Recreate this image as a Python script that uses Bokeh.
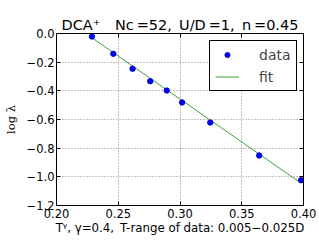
from bokeh.plotting import figure
from bokeh.models import Range1d, FixedTicker, LinearAxis, Legend, LegendItem
from bokeh.embed import file_html
from bokeh.resources import INLINE

# ---- data ----
t_gamma = [0.2287, 0.2460, 0.2616, 0.2759, 0.2893, 0.3017, 0.3245, 0.3641, 0.3981]
log_lambda = [-0.021, -0.142, -0.246, -0.333, -0.398, -0.481, -0.621, -0.851, -1.023]
fit_x = [0.2287, 0.3981]
fit_y = [-0.030, -1.045]

x_ticks = [0.20, 0.25, 0.30, 0.35, 0.40]
x_tick_labels = ["0.20", "0.25", "0.30", "0.35", "0.40"]
y_ticks = [-1.2, -1.0, -0.8, -0.6, -0.4, -0.2, 0.0]
y_tick_labels = ["\u22121.2", "\u22121.0", "\u22120.8", "\u22120.6", "\u22120.4", "\u22120.2", "0.0"]

title_text = "DCA\u207a\u2003Nc\u2009=52,\u2002U/D\u2009=1,\u2002n\u2009=0.45"
x_label = "T\u1d5e, \u03b3=0.4,\u2002T-range of data: 0.005\u22120.025D"
y_label = "log \u03bb"

X0, X1, Y0, Y1 = 0.2, 0.4, -1.2, 0.0

# frame geometry in page pixels (as in the reference)
FL, FR, FT, FB = 45, 292, 33, 205
W, H = 319, 252

p = figure(frame_width=FR - FL, frame_height=FB - FT,
           x_range=Range1d(X0, X1), y_range=Range1d(Y0, Y1),
           output_backend="svg", toolbar_location=None,
           min_border_left=FL, min_border_right=W - FR,
           min_border_top=FT, min_border_bottom=H - FB)

p.outline_line_color = "black"
p.outline_line_width = 1
p.background_fill_color = "white"
p.border_fill_color = "white"

# title
p.title.text = title_text
p.title.align = "center"
p.title.text_font = "DejaVu Sans"
p.title.text_font_size = "14.5px"
p.title.text_font_style = "normal"
p.title.text_color = "black"
p.title.standoff = 2

# axes
p.xaxis.ticker = FixedTicker(ticks=x_ticks)
p.yaxis.ticker = FixedTicker(ticks=y_ticks)
p.xaxis.major_label_overrides = {t: l for t, l in zip(x_ticks, x_tick_labels)}
p.yaxis.major_label_overrides = {t: l for t, l in zip(y_ticks, y_tick_labels)}
for ax in (p.xaxis[0], p.yaxis[0]):
    ax.major_tick_in = 4
    ax.major_tick_out = 0
    ax.minor_tick_line_color = None
    ax.axis_line_color = "black"
    ax.major_tick_line_color = "black"
    ax.major_label_text_font = "DejaVu Sans"
    ax.major_label_text_font_size = "11.5px"
    ax.major_label_text_color = "black"
    ax.axis_label_text_color = "black"
    ax.axis_label_text_font_style = "normal"
p.xaxis.major_label_standoff = 3
p.yaxis.major_label_standoff = 2

p.xaxis.axis_label = x_label
p.xaxis.axis_label_text_font = "DejaVu Sans"
p.xaxis.axis_label_text_font_size = "11.8px"
p.xaxis.axis_label_standoff = 0

p.yaxis.axis_label = y_label
p.yaxis.axis_label_text_font = "DejaVu Serif"
p.yaxis.axis_label_text_font_size = "11.5px"
p.yaxis.axis_label_standoff = 6

top = LinearAxis(ticker=FixedTicker(ticks=x_ticks), major_tick_in=4, major_tick_out=0,
                 minor_tick_line_color=None, major_label_text_color=None,
                 axis_line_color="black", major_label_standoff=0)
right = LinearAxis(ticker=FixedTicker(ticks=y_ticks), major_tick_in=4, major_tick_out=0,
                   minor_tick_line_color=None, major_label_text_color=None,
                   axis_line_color="black", major_label_standoff=0)
p.add_layout(top, "above")
p.add_layout(right, "right")

# grid
p.grid.grid_line_color = "#888888"
p.grid.grid_line_dash = "1 2"
p.grid.grid_line_width = 1
p.xgrid.ticker = FixedTicker(ticks=x_ticks)
p.ygrid.ticker = FixedTicker(ticks=y_ticks)

# glyphs
fit_r = p.line(fit_x, fit_y, line_color="green", line_width=1, line_alpha=0.75)
data_r = p.scatter(t_gamma, log_lambda, size=5.5, marker="circle",
                   fill_color="#0000ff", line_color="#0000aa", line_width=0.8)

leg = Legend(items=[LegendItem(label="data", renderers=[data_r]),
                    LegendItem(label="fit", renderers=[fit_r])],
             location=(198 - FL, FB - 91), margin=0, padding=5, spacing=5,
             glyph_width=24, glyph_height=13, label_height=17, label_standoff=20,
             label_text_font="DejaVu Sans", label_text_font_size="14px",
             border_line_color="black", border_line_width=1, border_line_alpha=1,
             background_fill_color="white", background_fill_alpha=1)
p.add_layout(leg)

open("out.html", "w").write(file_html(p, INLINE))
